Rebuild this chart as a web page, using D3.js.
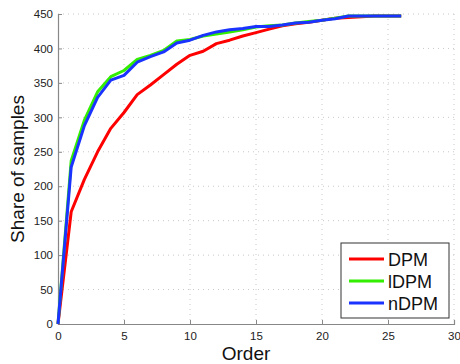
<!DOCTYPE html>
<html><head><meta charset="utf-8">
<script src="https://cdn.jsdelivr.net/npm/d3@7"></script>
<style>body{margin:0;background:#fff}svg{display:block}text{font-family:"Liberation Sans",Arial,sans-serif}</style>
</head><body>
<svg id="c" width="460" height="364"></svg>
<script>
const orders = d3.range(0, 27);
const dpm  = [0,163,210,250,284,307,333,347,362,377,390,396,407,412,418,423,428,433,436,438,441,444,445,446,447,447,447];
const ldpm = [0,237,296,337,359,368,384,390,397,411,413,418,421,424,427,431,433,434,437,439,441,444,447,447,447,447,447];
const ndpm = [0,228,288,329,354,361,380,388,395,408,412,419,424,427,429,432,432,434,437,438,441,443,447,447,447,447,447];
const seriesNames = ["DPM","lDPM","nDPM"];
const seriesColors = ["#ff0000","#33ee00","#1a33ff"];
const xTicks = [0,5,10,15,20,25,30];
const yTicks = [0,50,100,150,200,250,300,350,400,450];

const svg = d3.select("#c");
const L=58, R=454, T=14, B=324;
const x = d3.scaleLinear().domain([0,30]).range([L,R]);
const y = d3.scaleLinear().domain([0,450]).range([B,T]);

// grid
const g = svg.append("g");
g.selectAll("line.gx").data(xTicks.slice(1)).join("line")
  .attr("x1",d=>x(d)).attr("x2",d=>x(d)).attr("y1",T).attr("y2",B)
  .attr("stroke","#c8c8c8").attr("stroke-dasharray","1,4");
g.selectAll("line.gy").data(yTicks.slice(1)).join("line")
  .attr("x1",L).attr("x2",R).attr("y1",d=>y(d)).attr("y2",d=>y(d))
  .attr("stroke","#c8c8c8").attr("stroke-dasharray","1,4");

const xa = svg.append("g").attr("transform",`translate(0,${B})`)
  .call(d3.axisBottom(x).tickValues(xTicks).tickSize(-4).tickPadding(8));
const ya = svg.append("g").attr("transform",`translate(${L},0)`)
  .call(d3.axisLeft(y).tickValues(yTicks).tickSize(-4).tickPadding(5));
[xa,ya].forEach(a=>{
  a.select(".domain").attr("stroke","#888").attr("stroke-width",1.2);
  a.selectAll(".tick line").attr("stroke","#888");
  a.selectAll(".tick text").attr("fill","#222").attr("font-size",11.5).attr("font-family","Liberation Sans, Arial, sans-serif");
});

const data = [dpm, ldpm, ndpm];
const line = d3.line().x((d,i)=>x(orders[i])).y(d=>y(d));
svg.append("g").selectAll("path").data(data).join("path")
  .attr("d",line).attr("fill","none")
  .attr("stroke",(d,i)=>seriesColors[i]).attr("stroke-width",3).attr("stroke-linejoin","round");

svg.append("text").attr("x",(L+R)/2-10).attr("y",360).attr("text-anchor","middle")
  .attr("font-size",19).attr("fill","#111").text("Order");
svg.append("text").attr("transform",`translate(24,${(T+B)/2}) rotate(-90)`).attr("text-anchor","middle")
  .attr("font-size",19).attr("fill","#111").text("Share of samples");

// legend
const lg = svg.append("g");
lg.append("rect").attr("x",341).attr("y",243).attr("width",108).attr("height",75)
  .attr("fill","#fff").attr("stroke","#333").attr("stroke-width",1);
seriesNames.forEach((n,i)=>{
  const yy = 259 + i*22;
  lg.append("line").attr("x1",349).attr("x2",384).attr("y1",yy).attr("y2",yy)
    .attr("stroke",seriesColors[i]).attr("stroke-width",3);
  lg.append("text").attr("x",388).attr("y",yy+6.5).attr("font-size",18).attr("fill","#111").text(n);
});
</script>
</body></html>
